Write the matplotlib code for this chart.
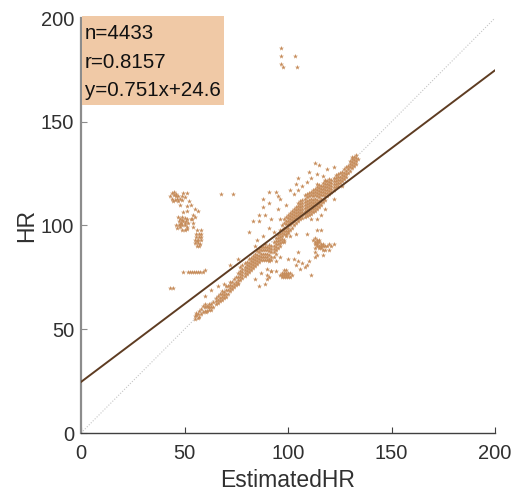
import matplotlib
matplotlib.use('Agg')
import matplotlib.pyplot as plt
from matplotlib.patches import Rectangle

plt.rcParams['font.family'] = ['Liberation Sans', 'DejaVu Sans']

# values, one list per blob of points
top_pts = [(96.6,185.5),(96.6,181.7),(103.4,181.7),(96.6,178),(97.6,176.5),(104.5,176.5)]
left_pts = [(43,114),(44,115.5),(45,116),(46,115),(47,114),(44,113),(45.5,112.5),(46.5,113),(45,114.5),(47,112),
    (44.5,112),(46,114),(48,113),(49,114),(49.5,115.5),(51,115.5),(50,113.5),(49,112.5),(52,112),(48,110),(51,109.5),
    (53,110),(51,107),(49.5,106.5),(55,108),(56.5,107),(67.6,115),(73.6,115),(54,105),(55,104),(53.5,103),
    (46,100),(47,104),(48,103),(49,104),(50,103.5),(47.5,102),(48.5,101),(49.5,102),(50.5,102),(51.5,101),(46.5,99),
    (48,99.5),(49,100),(50,100),(51,99.5),(49,98),(50,98),(51,98.5),(49,102.5),(50,101),(48,100.5),(51,103),(47.5,100),
    (53,103),(54,101),(54,99.5),(56,98),(58,98),(55.5,96),(57,96),(58,96),(55.5,94.5),(57,94.5),(58,94.5),(55,93),
    (56.5,93),(58,93),(55,91.5),(56.5,91.5),(57.5,91),(56,90),(57,90),(56,92.5)]
flat_pts = [(49.5,77.5),(51.5,77.5),(52.5,77.5),(53.5,77.5),(54.5,77.5),(55.5,77.5),(56.5,77.5),(57.5,77.5),(59,77.5),
    (60,78.5),(43,70),(44.5,70)]
band_pts = [(55,55),(55,56.5),(55.5,58),(56.5,55.5),(56.5,57.5),(57,59),(55.5,57),(58,60),(59,61),(60,60.5),(60.5,58.5),
    (60,62),(61,61),(62,59.5),(62,62),(63,60.5),(63,62),(64,60.5),(61.5,60.5),(65,63.5),(65,65),(66,64),(66,66),(67,65),(67,67),
    (68,65.5),(68,67),(68,68.5),(69,66.5),(69,68),(70,67),(70,69),(70,71),(71,69),(71,71),(72,70),(72,71.5),(72,73),
    (73,71),(73,73),(74,72),(74,74),(75,73),(75,75),(76,75),(76,77),(77,75),(77,76.5),(77,78),(77,80),(78,76),(78,77.5),
    (78,79),(78,81),(79,77),(79,78.5),(79,80),(79,82),(80,78),(80,79.5),(80,81),(80,82.5),(81,79),(81,80.5),(81,82),(81,84),
    (82,80),(82,81.5),(82,83),(82,84.5),(83,81),(83,82.5),(83,84),(83,85.5),(84,82),(84,83.5),(84,85),(84,86.5),
    (85,83),(85,84.5),(85,86),(85,87.5),(86,84),(86,85.5),(86,87),(86,88.5),(87,85),(87,86.5),(87,88),(87,89.5),
    (88,85),(88,86.5),(88,88),(88,89.5),(89,85),(89,86.5),(89,88),(89,89.5),(89,91),(90,85),(90,86.5),(90,88),(90,89.5),
    (91,84),(91,86),(91,87.5),(91,89),(91,90.5),(92,85),(92,87),(92,88.5),(92,90),(93,87),(93,88.5),(93,90),(93,92),
    (94,91),(94,92.5),(94,94),(95,91),(95,92.5),(95,94),(95,95.5),(96,93),(96,94.5),(96,96),(96,98),(97,95),(97,96.5),
    (97,98),(97,100),(98,96),(98,97.5),(98,99),(98,101),(98,103),(99,97.5),(99,99),(99,100.5),(99,102),(99,104),(100,99),
    (100,100.5),(100,102),(100,103.5),(100,105),(101,100),(101,101.5),(101,103),(101,104.5),(102,101),(102,102.5),(102,104),
    (102,105.5),(103,102),(103,103.5),(103,105),(103,106.5),(104,103),(104,104.5),(104,106),(104,107.5),(105,103.5),(105,105),
    (105,106.5),(105,108),(105,109.5),(106,104.5),(106,106),(106,107.5),(106,109),(107,105),(107,106.5),(107,108),(107,109.5),
    (107,111),(108,105.5),(108,107),(108,108.5),(108,110),(108,111.5),(109,106),(109,107.5),(109,109),(109,110.5),(109,112),
    (110,106.5),(110,108),(110,109.5),(110,111),(110,112.5),(110,114),(111,107),(111,108.5),(111,110),(111,111.5),(111,113),
    (112,108),(112,109.5),(112,111),(112,112.5),(112,114),(113,108.5),(113,110),(113,111.5),(113,113),(113,114.5),(114,109.5),
    (114,111),(114,112.5),(114,114),(114,115.5),(115,110.5),(115,112),(115,113.5),(115,115),(115,116.5),(116,111.5),(116,113),
    (116,114.5),(116,116),(116,117.5),(117,113),(117,114.5),(117,116),(117,117.5),(118,114),(118,115.5),(118,117),(118,118.5),
    (119,115.5),(119,117),(119,118.5),(119,120),(120,116.5),(120,118),(120,119.5),(120,121),(121,117.5),(121,119),(121,120.5),
    (122,118.5),(122,120),(122,121.5),(123,120),(123,121.5),(123,123),(124,120.5),(124,122),(124,123.5),(125,122),(125,123.5),
    (126,123),(126,124.5),(126,126),(127,124),(127,125.5),(128,125),(128,126.5),(129,127),(129,128.5),(130,128),(130,129.5),
    (130,131),(131,129),(131,130.5),(131,132),(132,130),(132,131.5),(132,133),(133,131),(133,132.5),(134,132)]
# thicker parts of the band
band_extra = [(57,56),(58,57.5),(59,58.5),(60,59),(61,59),(62,60.5),(63,59.5),(64,63),(65,62),(66,62.5),(67,63.5),(68,64),
    (69,65),(70,65.5),(71,67),(72,68.5),(73,69.5),(74,70.5),(75,71.5),(76,72.5),(76,73.5),(77,73.5),(78,74.5),(79,75.5),
    (80,76.5),(81,77.5),(82,78.5),(83,79.5),(84,80.5),(85,81.5),(86,82.5),(87,83.5),(88,83.5),(89,83.5),(90,83.5),(91,83),
    (92,83.5),(93,85),(94,86.5),(94,88),(94,89.5),(95,89),(96,90),(96,91.5),(97,92),(97,93.5),(98,93),(99,95),(99,96),
    (100,96.5),(100,97.5),(101,98),(101,106),(102,99),(102,107),(103,100),(103,108),(104,101),(104,109),(105,102),(105,111),
    (106,103),(106,110.5),(106,112),(107,103.5),(107,112.5),(108,104),(108,113),(108,114.5),(109,104.5),(109,113.5),
    (109,115),(110,105),(110,115.5),(111,105.5),(111,114.5),(111,116),(112,106.5),(112,115.5),(112,117),(113,107),(113,116),
    (113,117.5),(114,108),(114,117),(114,118.5),(115,109),(115,118),(115,119.5),(116,110),(116,119),(117,111.5),(117,119),
    (117,120.5),(118,112.5),(118,120),(118,121.5),(119,114),(119,121.5),(120,115),(120,122.5),(121,116),(121,122),(122,117),
    (122,123),(123,118.5),(123,124.5),(124,119),(124,125),(125,120.5),(125,125.5),(126,121.5),(127,122.5),(127,127),
    (128,123.5),(128,128),(129,125.5),(130,126.5),(131,127.5),(131,133),(132,128.5),(133,129.5),(133,134)]
stray_pts = [(76,72),(84,74),(86,71),(89,72),(87,77),(92,78),(84,90),(85,93),(88,95),(91,99),(92,103),(86,102),(89,105),
    (83,102),(81,97),(93,97),(96,103),(95,108),(95,114),(94,116),(96,113),(88,113),(91,111),(88,109),(86,105),
    (91,116),(99,110),(103,115),(101,117),(105,117),(104,120),(107,119),(105,123),(109,121),(111,123),(110,126),
    (114,125),(114,120),(117,124),(113,130),(115,129),(119,127),(122,128),(118,122),(122,113),(118,108),(116,105),
    (114,103),(114,98),(116,98),(111,103),(126,119),(105,87),(110,83),(109,81),(103,84),(96,85),(100,84),(94,83),
    (106,79),(111,76),(98,92),(104,96),(101,95),(109,96),(76,84),(72,81),(66,71),(63,69),(60,66),(69,72)]
blob_low = [(96,76),(97,75),(98,75),(99,75),(100,75),(97,77),(98,77),(99,77),(100,77),(101,77),(98,78.5),(99,78.5),
    (97,76),(98,76),(99,76),(100,76),(102,76),(101,75),(90,74),(90,76),(91,75),(92,78),(94,78),(104,81),(107,82),(108,80),
    (105,83),(90,79)]
blob_right = [(112,93),(113,94),(114,93),(113,91),(114,91),(115,92),(116,91),(117,91),(118,90),(119,90),(120,91),(113,89),
    (114,92),(115,90),(116,90),(117,90),(114,90),(113,92),(115,93),(115,89),(116,89),(117,88),(118,88),(121,90),(122,91),
    (113,87),(113,85),(114,86),(117,86),(120,88)]

fit_coef = [0.751, 24.6]
stats_lines = ['n=4433', 'r=0.8157', 'y=0.751x+24.6']
ticks = [0, 50, 100, 150, 200]

fig = plt.figure(figsize=(5.13, 4.94), dpi=100)
ax = fig.add_axes([81/513, 1 - 433/494, 414/513, 415/494])

# unity line
ax.plot([0, 200], [0, 200], color='#c4c4c4', lw=0.8, ls=(0, (1, 1.5)), zorder=1)

for pts in [top_pts, left_pts, flat_pts, band_pts, band_extra, stray_pts, blob_low, blob_right]:
    xs = [p[0] for p in pts]
    ys = [p[1] for p in pts]
    ax.scatter(xs, ys, marker='*', s=14, color='#c68c5a', linewidths=0, zorder=2)

fit_x = [0, 200]
fit_y = [fit_coef[0] * v + fit_coef[1] for v in fit_x]
ax.plot(fit_x, fit_y, color='#5e3c22', lw=1.4, zorder=3)

# stats box, sits just off the y axis
ax.add_patch(Rectangle((1 / 414, 1 - 87 / 415), 142 / 414, 89 / 415, transform=ax.transAxes,
                       facecolor='#f0c9a6', edgecolor='none', clip_on=False, zorder=4))
for i, s in enumerate(stats_lines):
    ax.text(4 / 414, (415 - 15.5 - i * 28.5) / 415, s, transform=ax.transAxes, fontsize=14.8,
            color='#111111', va='center', ha='left', zorder=5)

ax.set_xlim(0, 200)
ax.set_ylim(0, 200)
ax.set_xticks(ticks)
ax.set_yticks(ticks)
ax.spines['top'].set_visible(False)
ax.spines['right'].set_visible(False)
ax.spines['left'].set_color('#8c8c8c')
ax.spines['left'].set_linewidth(1.6)
ax.spines['bottom'].set_color('#404040')
ax.spines['bottom'].set_linewidth(1.0)
ax.tick_params(direction='in', length=4, width=0.8, color='#404040', labelcolor='#303030', labelsize=14.5)
ax.tick_params(axis='x', pad=8)
ax.tick_params(axis='y', pad=5, color='#8c8c8c')
ax.set_xlabel('EstimatedHR', fontsize=16.5, color='#303030', labelpad=4)
ax.set_ylabel('HR', fontsize=16.5, color='#303030', labelpad=2)

plt.savefig('out.png', dpi=100)
